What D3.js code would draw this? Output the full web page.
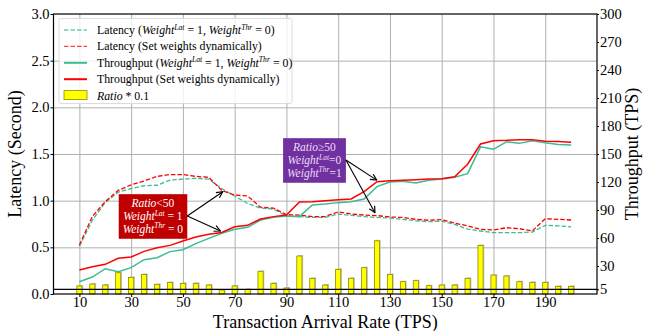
<!DOCTYPE html>
<html>
<head>
<meta charset="utf-8">
<script src="https://cdn.jsdelivr.net/npm/d3@7"></script>
<style>
body { margin: 0; background: #fff; }
svg { font-family: "Liberation Serif", "Times New Roman", serif; }
</style>
</head>
<body>
<script>
// arrival rate (TPS)
var tps = [10, 15, 20, 25, 30, 35, 40, 45, 50, 55, 60, 65, 70, 75, 80, 85, 90, 95, 100, 105,
           110, 115, 120, 125, 130, 135, 140, 145, 150, 155, 160, 165, 170, 175, 180, 185, 190, 195, 200]

// latency (second), left axis
var latStatic = [0.51, 0.79, 0.98, 1.09, 1.13, 1.16, 1.165, 1.22, 1.23, 1.24, 1.23, 1.13, 1.05, 0.97, 0.92, 0.91, 0.836, 0.83, 0.82, 0.82,
                 0.857, 0.843, 0.83, 0.82, 0.814, 0.80, 0.785, 0.775, 0.78, 0.746, 0.696, 0.675, 0.657, 0.657, 0.657, 0.664, 0.736, 0.73, 0.72]
var latDynamic = [0.525, 0.83, 0.99, 1.11, 1.17, 1.21, 1.26, 1.28, 1.28, 1.26, 1.25, 1.11, 1.06, 1.05, 0.93, 0.92, 0.85, 0.846, 0.83, 0.83,
                  0.88, 0.857, 0.846, 0.84, 0.825, 0.82, 0.80, 0.79, 0.796, 0.76, 0.73, 0.693, 0.686, 0.71, 0.70, 0.675, 0.807, 0.80, 0.793]

// throughput (TPS), right axis
var thrStatic = [13.2, 18.2, 27.1, 23.9, 28.2, 36.8, 38.9, 45.4, 47.5, 54, 59.6, 65, 69.3, 71.4, 79.3, 82.1, 83.6, 82.9, 95.4, 96.4,
                 97.9, 98.9, 101.8, 115, 120, 120.7, 118.9, 121.8, 123.2, 125, 129, 157.7, 155, 163, 161.4, 164.3, 162, 160.2, 159.6]
var thrDynamic = [25.7, 29.3, 31.8, 38.2, 39.6, 45.7, 49.6, 52.1, 56.8, 61, 64, 66, 72, 73.6, 80.4, 82.9, 84.6, 98.5, 98.9, 100,
                  101, 101.8, 109.6, 120.4, 121.4, 121.8, 122.5, 123.2, 123.6, 125.7, 139, 160.7, 164.3, 164.6, 165.4, 165.4, 163.6, 163.3, 162.5]

// Ratio * 0.1, right axis
var ratio = [8.6, 10.7, 9.6, 22.8, 17.8, 21, 10.3, 12.4, 11.4, 11.4, 9.6, 4.3, 8.6, 5, 24.3, 11.4, 6.4, 40.7, 16.8, 9.6,
             26.4, 16.8, 28.2, 57, 21, 13.2, 14.3, 8.9, 9.6, 9.6, 16.8, 52, 20.3, 19.3, 13.2, 12.5, 12.5, 8.2, 8.2]

var xTicks = [10, 30, 50, 70, 90, 110, 130, 150, 170, 190]
var latTicks = [0, 0.5, 1.0, 1.5, 2.0, 2.5, 3.0]
var thrTicks = [5, 30, 60, 90, 120, 150, 180, 210, 240, 270, 300]
var threshold = 5

var w = 652
var h = 331
var pl = 53.5, pr = 597, pt = 14, pb = 294

var green = "#3cbb96"
var red = "#ff0000"

var svg = d3.select("body")
            .append("svg")
            .attr("width", w)
            .attr("height", h)

var x = d3.scaleLinear().domain([0, 210]).range([pl, pr])
var yLat = d3.scaleLinear().domain([0, 3]).range([pb, pt])
var yThr = d3.scaleLinear().domain([0, 300]).range([pb, pt])

// grid
svg.append("g")
   .attr("transform", "translate(0," + pb + ")")
   .call(d3.axisBottom(x).tickValues(xTicks).tickSize(-(pb - pt)).tickFormat(""))
   .call(g => g.select(".domain").remove())
   .selectAll("line").attr("stroke", "#b0b0b0").attr("stroke-width", 1)
svg.append("g")
   .attr("transform", "translate(" + pl + ",0)")
   .call(d3.axisLeft(yLat).tickValues(latTicks.slice(1, -1)).tickSize(-(pr - pl)).tickFormat(""))
   .call(g => g.select(".domain").remove())
   .selectAll("line").attr("stroke", "#b0b0b0").attr("stroke-width", 1)

// bars with a light shadow
var bw = x(2) - x(0)
svg.append("g").selectAll("rect")
   .data(ratio)
   .enter()
   .append("rect")
   .attr("x", (d, i) => x(tps[i]) - bw / 2 + 1.2)
   .attr("y", d => yThr(d) - 1)
   .attr("width", bw)
   .attr("height", d => pb - yThr(d) + 1)
   .attr("fill", "#c8c8c8")
svg.append("g").selectAll("rect")
   .data(ratio)
   .enter()
   .append("rect")
   .attr("x", (d, i) => x(tps[i]) - bw / 2)
   .attr("y", d => yThr(d))
   .attr("width", bw)
   .attr("height", d => pb - yThr(d))
   .attr("fill", "#ffff00")
   .attr("stroke", "#8c8c00")
   .attr("stroke-width", 0.8)

// lines
var latLine = d3.line().x((d, i) => x(tps[i])).y(d => yLat(d))
var thrLine = d3.line().x((d, i) => x(tps[i])).y(d => yThr(d))

svg.append("path").datum(latStatic).attr("d", latLine)
   .attr("fill", "none").attr("stroke", green).attr("stroke-width", 1.3).attr("stroke-dasharray", "4.5,2")
svg.append("path").datum(latDynamic).attr("d", latLine)
   .attr("fill", "none").attr("stroke", red).attr("stroke-width", 1.3).attr("stroke-dasharray", "4.5,2")
svg.append("path").datum(thrStatic).attr("d", thrLine)
   .attr("fill", "none").attr("stroke", green).attr("stroke-width", 1.5)
svg.append("path").datum(thrDynamic).attr("d", thrLine)
   .attr("fill", "none").attr("stroke", red).attr("stroke-width", 1.5)

// threshold line (Ratio = 50)
svg.append("line")
   .attr("x1", pl).attr("x2", pr)
   .attr("y1", yThr(threshold)).attr("y2", yThr(threshold))
   .attr("stroke", "#000").attr("stroke-width", 1.3)

// frame
svg.append("rect")
   .attr("x", pl).attr("y", pt)
   .attr("width", pr - pl).attr("height", pb - pt)
   .attr("fill", "none").attr("stroke", "#000").attr("stroke-width", 1.2)

// axes
var xAxis = svg.append("g")
   .attr("transform", "translate(0," + pb + ")")
   .call(d3.axisBottom(x).tickValues(xTicks).tickSize(3).tickPadding(0))
var yAxisL = svg.append("g")
   .attr("transform", "translate(" + pl + ",0)")
   .call(d3.axisLeft(yLat).tickValues(latTicks).tickSize(3).tickPadding(1).tickFormat(d3.format(".1f")))
var yAxisR = svg.append("g")
   .attr("transform", "translate(" + pr + ",0)")
   .call(d3.axisRight(yThr).tickValues(thrTicks).tickSize(2).tickPadding(1))

;[xAxis, yAxisL, yAxisR].forEach(function (g) {
    g.select(".domain").remove()
    g.selectAll("text").attr("font-family", "Liberation Serif").attr("font-size", 14.5).attr("fill", "#000")
    g.selectAll("line").attr("stroke", "#000")
})

// axis titles
svg.append("text")
   .attr("x", (pl + pr) / 2).attr("y", 327.5)
   .attr("text-anchor", "middle").attr("font-size", 18)
   .text("Transaction Arrival Rate (TPS)")
svg.append("text")
   .attr("transform", "translate(21," + (pt + pb) / 2 + ") rotate(-90)")
   .attr("text-anchor", "middle").attr("font-size", 18)
   .text("Latency (Second)")
svg.append("text")
   .attr("transform", "translate(638," + (pt + pb) / 2 + ") rotate(-90)")
   .attr("text-anchor", "middle").attr("font-size", 18)
   .text("Throughput (TPS)")

// rich text helper: parts are [text, kind] with kind n / i / s(superscript)
function rich(sel, parts, size) {
    var shifted = false
    parts.forEach(function (p) {
        var t = sel.append("tspan").text(p[0])
        if (p[1] === "i" || p[1] === "s") t.attr("font-style", "italic")
        if (p[1] === "s") {
            t.attr("font-size", size * 0.65).attr("dy", -size * 0.38)
            shifted = true
        } else {
            t.attr("font-size", size)
            if (shifted) { t.attr("dy", size * 0.38); shifted = false }
        }
    })
}

// legend
var legendRows = [
    { kind: "dash", color: green, parts: [["Latency (", "n"], ["Weight", "i"], ["Lat", "s"], [" = 1, ", "n"], ["Weight", "i"], ["Thr", "s"], [" = 0)", "n"]] },
    { kind: "dash", color: red, parts: [["Latency (Set weights dynamically)", "n"]] },
    { kind: "solid", color: green, parts: [["Throughput (", "n"], ["Weight", "i"], ["Lat", "s"], [" = 1, ", "n"], ["Weight", "i"], ["Thr", "s"], [" = 0)", "n"]] },
    { kind: "solid", color: red, parts: [["Throughput (Set weights dynamically)", "n"]] },
    { kind: "bar", color: "#ffff00", parts: [["Ratio", "i"], [" * 0.1", "n"]] }
]

var legend = svg.append("g")
legend.append("rect")
      .attr("x", 59).attr("y", 18.5).attr("width", 233).attr("height", 85).attr("rx", 2)
      .attr("fill", "#fff").attr("fill-opacity", 0.8).attr("stroke", "#dcdcdc")

legendRows.forEach(function (r, i) {
    var cy = 30 + i * 16.4
    if (r.kind === "bar") {
        legend.append("rect").attr("x", 64).attr("y", cy - 5).attr("width", 23).attr("height", 9)
              .attr("fill", r.color).attr("stroke", "#8c8c00").attr("stroke-width", 0.8)
    } else {
        legend.append("line").attr("x1", 64).attr("x2", 87).attr("y1", cy).attr("y2", cy)
              .attr("stroke", r.color)
              .attr("stroke-width", r.kind === "dash" ? 1.3 : 2)
              .attr("stroke-opacity", r.kind === "dash" ? 0.75 : 1)
              .attr("stroke-dasharray", r.kind === "dash" ? "4.5,2" : null)
    }
    var t = legend.append("text").attr("x", 97).attr("y", cy + 4)
    rich(t, r.parts, 11.8)
})

// annotations
svg.append("defs").append("marker")
   .attr("id", "head").attr("viewBox", "0 0 10 10")
   .attr("refX", 9).attr("refY", 5)
   .attr("markerWidth", 7).attr("markerHeight", 7)
   .attr("orient", "auto")
   .append("path").attr("d", "M1,1 L9,5 L1,9").attr("fill", "none").attr("stroke", "#000").attr("stroke-width", 1.5)

var notes = [
    { tx: 38.4, ty: 0.836, fill: "#c00000", color: "#ffffff",
      lines: [[["Ratio", "i"], ["<50", "n"]],
              [["Weight", "i"], ["Lat", "s"], [" = 1", "n"]],
              [["Weight", "i"], ["Thr", "s"], [" = 0", "n"]]],
      arrows: [[65.4, 1.096], [64.5, 0.675]] },
    { tx: 100.8, ty: 1.436, fill: "#7030a0", color: "#eadcf6",
      lines: [[["Ratio", "i"], ["≥50", "n"]],
              [["Weight", "i"], ["Lat", "s"], ["=0", "n"]],
              [["Weight", "i"], ["Thr", "s"], ["=1", "n"]]],
      arrows: [[124.9, 1.22], [124.2, 0.871]] }
]

notes.forEach(function (n) {
    var cx = x(n.tx), cy = yLat(n.ty)
    var g = svg.append("g")
    var box = g.append("rect").attr("fill", n.fill)
    var tg = g.append("g")
    n.lines.forEach(function (parts, i) {
        var t = tg.append("text").attr("x", cx).attr("y", cy + (i - 1) * 12.8 + 4)
                  .attr("text-anchor", "middle").attr("fill", n.color)
        rich(t, parts, 11.5)
    })
    var bb = tg.node().getBBox()
    var pad = 4
    box.attr("x", bb.x - pad).attr("y", bb.y - pad + 1)
       .attr("width", bb.width + 2 * pad).attr("height", bb.height + 2 * pad - 2)
    var sx = bb.x + bb.width + pad
    n.arrows.forEach(function (a) {
        svg.append("line")
           .attr("x1", sx).attr("y1", cy)
           .attr("x2", x(a[0])).attr("y2", yLat(a[1]))
           .attr("stroke", "#000").attr("stroke-width", 1.1)
           .attr("marker-end", "url(#head)")
    })
})
</script>
</body>
</html>
